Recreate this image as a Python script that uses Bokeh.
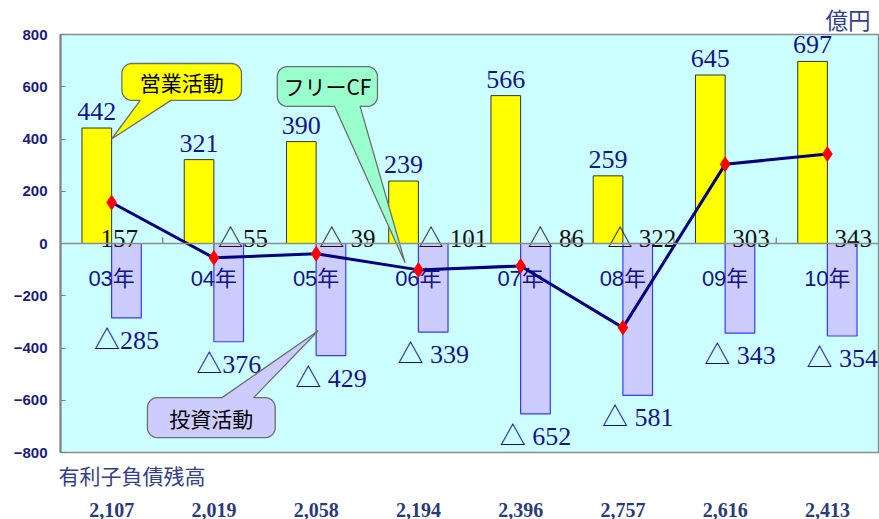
import numpy as np
from bokeh.plotting import figure
from bokeh.models import FixedTicker, Span, Title, LinearAxis, ColumnDataSource
from bokeh.core.properties import value
from bokeh.embed import file_html
from bokeh.resources import INLINE

# ---------------- data ----------------
years = ["03年", "04年", "05年", "06年", "07年", "08年", "09年", "10年"]
operating_cf = [442, 321, 390, 239, 566, 259, 645, 697]
investing_cf = [-285, -376, -429, -339, -652, -581, -343, -354]
free_cf = [157, -55, -39, -101, -86, -322, 303, 343]
investing_labels = ["△285", "△376", "△ 429", "△ 339", "△ 652", "△ 581", "△ 343", "△ 354"]
free_cf_labels = ["157", "△55", "△ 39", "△ 101", "△ 86", "△ 322", "303", "343"]
debt_balance = [2107, 2019, 2058, 2194, 2396, 2757, 2616, 2413]
y_ticks = [-800, -600, -400, -200, 0, 200, 400, 600, 800]

# ---------------- layout helpers ----------------
W, H = 879, 519
ML, MR, MT, MB = 60, 1, 33, 67
frame_w = W - ML - MR
frame_h = H - MT - MB
n = len(years)
XPX = n / frame_w          # x data units per pixel
YPX = 1600.0 / frame_h     # y data units per pixel
BW = 0.29                  # bar width in category units
idx = list(range(n))

SERIF = "'Liberation Serif', 'Noto Sans CJK JP'"
SANS = "'Liberation Sans', 'Noto Sans CJK JP'"
NAVY = "#14148a"
SLATE = "#34408a"

p = figure(width=W, height=H, x_range=(-0.5, n - 0.5), y_range=(-800, 800),
           output_backend="svg", toolbar_location=None, x_axis_location=None,
           min_border_left=ML, min_border_right=MR, min_border_top=MT, min_border_bottom=MB,
           background_fill_color="#ccffff", border_fill_color="white")
p.outline_line_color = "#8c8c8c"
p.outline_line_width = 1.5
p.xgrid.visible = False
p.ygrid.visible = False

# unit title (top right)
p.add_layout(Title(text="億円", align="right", text_font="Noto Sans CJK JP", text_font_size="22.5px",
                   text_font_style="normal", text_color=SLATE, standoff=0, offset=8), "above")

# y axis
p.yaxis.ticker = FixedTicker(ticks=y_ticks)
p.yaxis.axis_line_color = "#808080"
p.yaxis.axis_line_width = 2
p.yaxis.major_tick_in = 5
p.yaxis.major_tick_out = 0
p.yaxis.major_tick_line_color = "#808080"
p.yaxis.minor_tick_line_color = None
p.yaxis.major_label_text_font = "Liberation Sans"
p.yaxis.major_label_text_font_style = "bold"
p.yaxis.major_label_text_font_size = "15px"
p.yaxis.major_label_text_color = "#1a1a80"
p.yaxis.major_label_standoff = 13

# debt header (below the frame, left aligned)
p.add_layout(Title(text="有利子負債残高", align="left", text_font="Noto Sans CJK JP", text_font_size="21px",
                   text_font_style="normal", text_color=SLATE, standoff=10, offset=-2), "below")

# x axis -> debt balance row
xax = LinearAxis(ticker=FixedTicker(ticks=idx),
                 major_label_overrides={i: f"{d:,}" for i, d in zip(idx, debt_balance)})
xax.axis_line_color = None
xax.major_tick_line_color = None
xax.minor_tick_line_color = None
xax.major_label_text_font = "Liberation Serif"
xax.major_label_text_font_style = "bold"
xax.major_label_text_font_size = "20px"
xax.major_label_text_color = "#2b3a7a"
xax.major_label_standoff = 2
p.add_layout(xax, "below")

# bars
src = ColumnDataSource(dict(
    i=idx, years=years, op=operating_cf, inv=investing_cf, fcf=free_cf,
    op_x=[i - BW / 2 for i in idx], inv_x=[i + BW / 2 for i in idx],
    op_lab=[str(v) for v in operating_cf], inv_lab=investing_labels, fcf_lab=free_cf_labels,
    op_ly=[v + 8 * YPX for v in operating_cf], inv_ly=[v - 8 * YPX for v in investing_cf],
))
p.vbar(x="op_x", top="op", bottom=0, width=BW, source=src,
       fill_color="#ffff00", line_color="#333333", line_width=1)
p.vbar(x="inv_x", top=0, bottom="inv", width=BW, source=src,
       fill_color="#ccccff", line_color="#3a3aff", line_width=1.2)

# zero line and category boundary ticks
p.add_layout(Span(location=0, dimension="width", line_color="#8c8c8c", line_width=1.5))
bx = [i + 0.5 for i in idx[:-1]]
p.segment(x0=bx, x1=bx, y0=[0] * len(bx), y1=[6 * YPX] * len(bx), line_color="#8c8c8c", line_width=1.5)

# year labels inside plot
p.text(x="i", y=-135, text="years", source=src, text_align="center", text_baseline="middle",
       text_font=value(SANS), text_font_size="22px", text_color=NAVY)

# free CF line
p.line(x="i", y="fcf", source=src, line_color="#000080", line_width=3)
p.scatter(x="i", y="fcf", source=src, marker="diamond", size=16, fill_color="#ff0000", line_color=None)

# value labels
p.text(x="op_x", y="op_ly", text="op_lab", source=src, text_align="center", text_baseline="bottom",
       text_font=value(SERIF), text_font_size="26px", text_color=NAVY)
p.text(x="inv_x", y="inv_ly", text="inv_lab", source=src, text_align="center", text_baseline="top",
       text_font=value(SERIF), text_font_size="26px", text_color=NAVY)
fcf_dx = [-0.11, 0.04, 0.03, 0.0, 0.07, -0.15, 0.07, 0.07]
p.text(x=[i + d for i, d in zip(idx, fcf_dx)], y=[5 * YPX] * n, text=free_cf_labels,
       text_align="left", text_baseline="alphabetic",
       text_font=value(SERIF), text_font_size="25px", text_color="#111111")


# callout bubbles
def bubble(x0, x1, y0, y1, edge, tb0, tb1, tip, r=10):
    rx, ry = r * XPX, r * YPX
    pts = [(x0 + rx, y0)]
    if edge == "bottom":
        pts += [(tb0, y0), tip, (tb1, y0)]
    pts.append((x1 - rx, y0))
    def arc(cx, cy, a0, a1):
        return [(cx + rx * np.cos(a), cy + ry * np.sin(a)) for a in np.linspace(a0, a1, 8)]
    pts += arc(x1 - rx, y0 + ry, -np.pi / 2, 0)
    pts += arc(x1 - rx, y1 - ry, 0, np.pi / 2)
    if edge == "top":
        pts += [(tb1, y1), tip, (tb0, y1)]
    pts += arc(x0 + rx, y1 - ry, np.pi / 2, np.pi)
    pts += arc(x0 + rx, y0 + ry, np.pi, 1.5 * np.pi)
    return [q[0] for q in pts], [q[1] for q in pts]


callouts = [
    ("営業活動", "#ffff00", (0.10, 1.27, 548, 689), "bottom", (0.28, 0.58), (0.0, 400)),
    ("フリーCF", "#99ffcc", (1.62, 2.60, 525, 677), "bottom", (2.18, 2.43), (2.87, -74)),
    ("投資活動", "#ccccff", (0.35, 1.60, -743, -590), "top", (1.08, 1.39), (2.02, -334)),
]
for txt, col, (x0, x1, y0, y1), edge, (t0, t1), tip in callouts:
    xs, ys = bubble(x0, x1, y0, y1, edge, t0, t1, tip)
    p.patch(xs, ys, fill_color=col, line_color="#6e6e6e", line_width=1.3)
    p.text(x=[(x0 + x1) / 2], y=[(y0 + y1) / 2], text=[txt], text_align="center", text_baseline="middle",
           text_font=value("Noto Sans CJK JP"), text_font_size="21px", text_color="#000000")

open("out.html", "w").write(file_html(p, INLINE))
